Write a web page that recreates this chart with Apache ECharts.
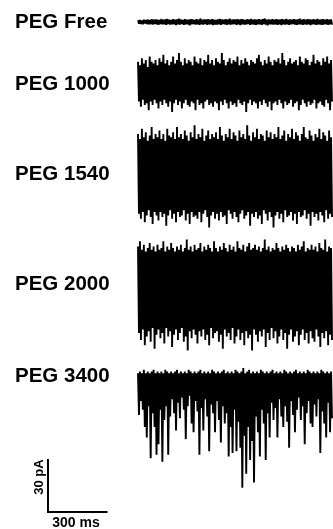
<!DOCTYPE html>
<html>
<head>
<meta charset="utf-8">
<script src="https://cdn.jsdelivr.net/npm/echarts@6/dist/echarts.min.js"></script>
<style>html,body{margin:0;padding:0;background:#fff;}#c{width:333px;height:529px;}</style>
</head>
<body>
<div id="c"></div>
<script>
// Trace names
const traceNames = ['PEG Free', 'PEG 1000', 'PEG 1540', 'PEG 2000', 'PEG 3400'];
// Each trace: per-time-bin (10 ms) envelope of the current, pA: upper and lower extremes
const pegFreeHi = [1.0,1.2,0.9,1.3,1.1,1.4,1.2,1.6,1.3,1.5, 1.4,1.2,1.7,1.3,1.5,1.8,1.4,1.2,1.6,1.3, 1.5,1.9,1.4,1.2,1.6,1.4,1.3,1.7,1.5,1.2, 1.6,1.4,2.0,1.3,1.5,1.4,1.7,1.3,1.6,1.4, 1.2,1.5,1.8,1.4,1.3,1.6,1.4,1.9,1.3,1.5, 1.4,1.6,1.3,1.7,1.5,1.2,1.6,1.4,1.8,1.3, 1.5,1.4,1.7,1.3,1.6,2.0,1.4,1.5,1.3,1.6, 1.4,1.7,1.3,1.5,1.6,1.4,1.8,1.3,1.5,1.4, 1.6,1.3,1.5,1.9,1.4,1.6,1.3,1.7,1.5,1.4, 1.6,1.4,1.8,1.3,1.5,1.7,1.4,1.6,1.3,1.5];
const pegFreeLo = [-1.0,-1.1,-1.3,-0.9,-1.2,-1.4,-1.1,-1.5,-1.2,-1.3, -1.6,-1.2,-1.4,-1.3,-1.7,-1.2,-1.5,-1.3,-1.4,-1.8, -1.3,-1.5,-1.2,-1.6,-1.4,-1.3,-1.9,-1.4,-1.2,-1.5, -1.4,-1.7,-1.3,-1.5,-1.2,-1.6,-1.4,-1.3,-1.8,-1.4, -1.5,-1.3,-1.6,-1.2,-1.4,-1.7,-1.3,-1.5,-1.4,-1.2, -1.6,-1.4,-1.8,-1.3,-1.5,-1.4,-1.2,-1.6,-1.3,-1.5, -1.7,-1.3,-1.4,-1.6,-1.2,-1.5,-1.9,-1.4,-1.3,-1.5, -1.4,-1.6,-1.3,-1.8,-1.4,-1.5,-1.3,-1.6,-1.4,-1.2, -1.5,-1.7,-1.3,-1.4,-1.6,-1.3,-1.5,-1.4,-1.8,-1.3, -1.4,-1.6,-1.3,-1.5,-1.7,-1.4,-1.3,-1.6,-1.4,-1.5];

const peg1000Hi = [12,10,14,11,13,9,15,12,11,13, 10,14,12,16,11,13,10,12,15,11, 13,17,12,10,14,11,13,12,10,15, 12,11,14,10,13,12,16,11,13,10, 14,12,11,17,13,10,12,14,11,13, 12,15,10,13,11,14,12,10,13,12, 11,14,16,12,10,13,11,15,12,10, 13,12,14,11,17,13,10,12,14,11, 12,13,10,15,12,11,14,13,10,12, 16,11,13,12,10,14,12,15,11,13];
const peg1000Lo = [-11,-14,-10,-13,-12,-16,-11,-13,-10,-12, -15,-11,-13,-10,-12,-14,-11,-17,-12,-10, -13,-11,-15,-12,-10,-13,-14,-11,-12,-16, -10,-13,-12,-15,-11,-10,-13,-12,-14,-11, -12,-16,-11,-13,-10,-12,-15,-11,-13,-12, -14,-10,-12,-13,-11,-17,-12,-10,-13,-11, -12,-15,-11,-13,-10,-12,-14,-11,-16,-12, -11,-13,-10,-12,-15,-11,-13,-12,-10,-14, -12,-11,-16,-13,-10,-12,-14,-11,-13,-12, -10,-15,-12,-11,-13,-14,-10,-12,-16,-11];

const peg1540Hi = [24,21,27,22,25,20,23,28,21,24, 22,26,21,24,20,27,23,22,25,21, 28,22,24,21,26,23,20,25,22,29, 21,24,22,27,20,23,26,21,24,22, 25,21,28,23,20,24,22,27,21,25, 23,20,26,22,24,21,29,23,20,25, 22,27,21,24,23,20,26,22,25,21, 24,22,28,21,23,26,20,24,22,27, 21,25,23,20,24,28,22,21,26,23, 20,24,22,27,21,25,23,20,26,22];
const peg1540Lo = [-22,-25,-21,-27,-23,-20,-24,-28,-21,-23, -26,-21,-24,-22,-29,-23,-20,-25,-22,-27, -21,-24,-23,-20,-26,-22,-28,-21,-24,-23, -25,-21,-27,-22,-20,-24,-30,-23,-21,-25, -22,-26,-21,-24,-23,-28,-20,-22,-25,-21, -24,-27,-22,-20,-25,-23,-21,-29,-22,-24, -21,-25,-23,-28,-20,-22,-26,-21,-24,-30, -23,-21,-25,-22,-27,-20,-24,-23,-21,-26, -22,-28,-21,-24,-23,-20,-25,-22,-29,-21, -24,-22,-26,-21,-23,-27,-20,-25,-22,-24];

const peg2000Hi = [24,27,22,25,21,23,26,22,24,21, 25,22,23,27,21,24,22,26,23,21, 24,22,25,21,23,28,22,24,21,25, 22,23,26,21,24,22,25,23,21,27, 23,21,24,22,26,23,21,25,22,24, 21,27,23,22,25,21,24,26,22,23, 25,22,24,21,23,28,22,24,21,23, 22,26,23,21,24,22,25,23,21,24, 23,21,25,22,24,27,21,23,22,25, 22,24,21,26,23,22,28,21,24,23];
const peg2000Lo = [-26,-30,-24,-33,-28,-25,-31,-23,-35,-27, -24,-29,-26,-32,-23,-28,-25,-34,-27,-24, -30,-26,-23,-31,-28,-36,-25,-29,-24,-27, -32,-25,-28,-24,-30,-27,-33,-23,-29,-26, -25,-31,-27,-35,-24,-28,-26,-30,-23,-32, -28,-24,-30,-26,-33,-25,-29,-27,-36,-24, -27,-31,-25,-28,-24,-34,-26,-30,-23,-29, -25,-32,-28,-24,-30,-26,-35,-27,-24,-31, -28,-25,-33,-27,-24,-30,-26,-32,-25,-29, -31,-24,-28,-34,-26,-29,-25,-33,-27,-30];

const peg3400Hi = [1,2,1,3,1,2,1,2,3,1, 2,1,2,1,3,2,1,2,1,2, 3,1,2,1,2,1,3,2,1,2, 1,2,3,1,2,1,2,1,3,2, 1,2,1,2,3,1,2,1,2,1, 3,2,1,2,4,1,2,3,1,2, 1,2,1,3,2,1,2,1,2,3, 1,2,1,2,1,3,2,1,2,1, 2,3,1,2,1,2,1,3,2,1, 2,1,2,1,3,2,1,2,1,2];
const peg3400Lo = [-23,-15,-20,-30,-36,-18,-48,-22,-30,-46, -40,-20,-50,-26,-18,-46,-24,-14,-22,-32, -16,-25,-13,-20,-37,-18,-12,-28,-33,-15, -21,-46,-19,-32,-14,-24,-44,-17,-22,-33, -15,-26,-39,-18,-28,-22,-47,-30,-45,-20, -44,-27,-42,-65,-35,-57,-30,-49,-38,-62, -24,-33,-47,-20,-28,-49,-22,-36,-16,-26, -19,-36,-14,-24,-30,-18,-27,-42,-15,-23, -33,-20,-13,-26,-18,-40,-22,-15,-28,-30, -17,-24,-14,-45,-21,-28,-36,-16,-33,-25];

const traceHi = [pegFreeHi, peg1000Hi, peg1540Hi, peg2000Hi, peg3400Hi];
const traceLo = [pegFreeLo, peg1000Lo, peg1540Lo, peg2000Lo, peg3400Lo];
const BIN_MS = 10;
const TOTAL_MS = 1000;
// Scale bar values
const scaleBarPA = 30;
const scaleBarMS = 300;

// ---- layout (pixels) ----
const W = 333, H = 529;
const PX_PER_PA = 52 / 30;
const traceLeft = 138, traceWidth = 195;
const traceZeroY = [22, 82.5, 175.5, 288, 375];
const labelY = [23, 85, 175, 285, 377];
const barLeft = 48, barZeroY = 512;

const grids = [], xAxes = [], yAxes = [], series = [];
function addPanel(left, zeroY) {
  const idx = grids.length;
  grids.push({left: left, top: 0, width: traceWidth, height: H});
  xAxes.push({type: 'value', gridIndex: idx, min: 0, max: TOTAL_MS, show: false});
  yAxes.push({type: 'value', gridIndex: idx, min: -(H - zeroY) / PX_PER_PA, max: zeroY / PX_PER_PA, show: false});
  return idx;
}
traceNames.forEach((name, k) => {
  const idx = addPanel(traceLeft, traceZeroY[k]);
  const pts = [];
  traceHi[k].forEach((h, i) => {
    pts.push([i * BIN_MS, h]);
    pts.push([i * BIN_MS + BIN_MS / 2, traceLo[k][i]]);
  });
  series.push({
    name: name, type: 'line', xAxisIndex: idx, yAxisIndex: idx, data: pts,
    showSymbol: false, symbol: 'none', silent: true, clip: false,
    lineStyle: {color: '#000', width: 1.9, join: 'bevel', cap: 'butt'}
  });
});
const barIdx = addPanel(barLeft, barZeroY);
series.push({
  type: 'line', xAxisIndex: barIdx, yAxisIndex: barIdx,
  data: [[0, scaleBarPA], [0, 0], [scaleBarMS, 0]],
  symbol: 'none', silent: true, clip: false,
  lineStyle: {color: '#000', width: 2, cap: 'square', join: 'miter'}
});

const font = '"Liberation Sans", Arial, Helvetica, sans-serif';
const graphic = traceNames.map((name, k) => ({
  type: 'text', left: 15, top: labelY[k] - 11,
  style: {text: name, font: 'bold 20.5px ' + font, fill: '#000'}
}));
graphic.push({
  type: 'text', x: 39, y: 477, rotation: Math.PI / 2,
  style: {text: scaleBarPA + ' pA', font: 'bold 13px ' + font, fill: '#000', textAlign: 'center', textVerticalAlign: 'middle'}
});
graphic.push({
  type: 'text', x: 76, y: 523,
  style: {text: scaleBarMS + ' ms', font: 'bold 14px ' + font, fill: '#000', textAlign: 'center', textVerticalAlign: 'middle'}
});

const chart = echarts.init(document.getElementById('c'), null, {renderer: 'canvas'});
chart.setOption({
  animation: false,
  backgroundColor: '#fff',
  grid: grids, xAxis: xAxes, yAxis: yAxes, series: series,
  graphic: graphic
});
</script>
</body>
</html>
